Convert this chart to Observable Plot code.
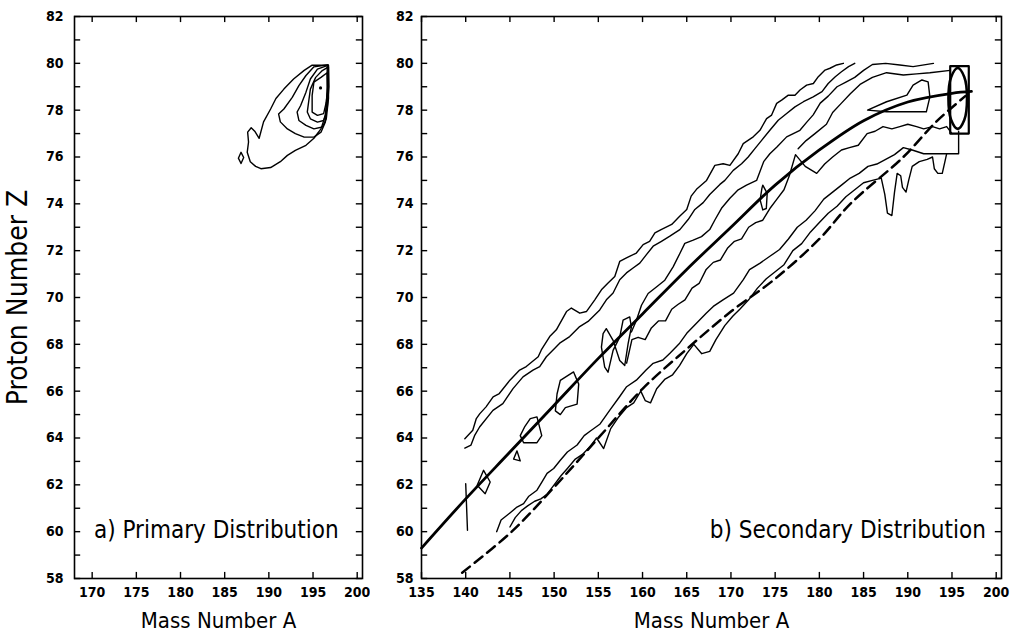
<!DOCTYPE html>
<html><head><meta charset="utf-8">
<script src="https://cdn.jsdelivr.net/npm/d3@7"></script>
<script src="https://cdn.jsdelivr.net/npm/@observablehq/plot@0.6"></script>
<style>
body{margin:0;background:#fff;}
#wrap{position:relative;width:1011px;height:632px;overflow:hidden;background:#fff}
#left,#right{position:absolute;top:0}
#left{left:0}#right{left:370px}
svg{overflow:visible}
</style></head><body><div id="wrap"><div id="left"></div><div id="right"></div></div>
<script>
// ---------- tick values ----------
const zLabels = [58,60,62,64,66,68,70,72,74,76,78,80,82];
const zTicks = [58,59,60,61,62,63,64,65,66,67,68,69,70,71,72,73,74,75,76,77,78,79,80,81,82];
const aTicksLeft = [170,175,180,185,190,195,200];
const aTicksRight = [135,140,145,150,155,160,165,170,175,180,185,190,195,200];

// ---------- panel a: primary distribution contours (A, Z) ----------
const primaryC1 = [[196.6,79.92],[194.9,79.92],[194.0,79.7],[192.8,79.33],[191.7,78.9],[190.8,78.5],[190.2,78.05],[189.4,77.5],[188.9,76.8],[188.4,77.1],[188.0,77.25],[187.6,77.06],[187.7,76.64],[187.55,76.2],[187.9,75.8],[188.5,75.6],[189.1,75.5],[190.2,75.55],[191.3,75.8],[192.1,76.07],[193.0,76.28],[194.2,76.5],[195.1,76.8],[195.9,77.2],[196.4,77.77],[196.6,78.77]];
const primaryC2 = [[196.7,79.94],[195.1,79.85],[194.2,79.48],[193.4,79.05],[192.65,78.55],[191.7,78.05],[191.1,77.84],[191.3,77.5],[192.1,77.2],[193.0,77.0],[194.0,76.85],[195.1,76.85],[195.9,77.06],[196.4,77.5],[196.65,78.6]];
const primaryC3 = [[196.75,79.92],[195.5,79.75],[194.7,79.33],[194.2,78.77],[193.6,78.2],[193.2,77.92],[193.4,77.56],[194.2,77.35],[195.1,77.2],[196.05,77.28],[196.5,77.63],[196.75,78.5]];
const primaryC4 = [[196.75,79.85],[196.05,79.69],[195.3,79.4],[194.7,78.9],[194.5,78.34],[194.35,77.92],[194.7,77.63],[195.5,77.49],[196.2,77.56],[196.6,78.05],[196.8,79.0]];
const primaryC5 = [[196.6,79.6],[195.9,79.4],[195.1,79.2],[194.9,78.63],[194.9,77.92],[195.5,77.78],[196.2,77.85],[196.5,78.34],[196.65,79.0]];
const primaryC6 = [[186.55,75.95],[186.85,76.2],[187.15,75.98],[186.85,75.72]];
const primaryPeak = [[195.85,78.95]];

// ---------- panel b: secondary distribution ----------
const secU1 = [[139.9,63.97],[140.8,64.33],[141.2,64.83],[141.6,65.04],[142.3,65.33],[143.1,65.76],[143.8,65.9],[145.0,66.47],[146.1,66.9],[146.85,67.05],[148.2,67.47],[148.55,67.76],[149.5,68.33],[150.25,68.62],[151.4,69.4],[151.95,69.55],[152.9,69.33],[153.65,69.4],[154.6,69.9],[155.35,70.33],[156.1,70.62],[156.86,70.9],[157.42,71.54],[158.18,71.69],[159.3,71.9],[160.07,72.26],[160.8,72.4],[161.4,72.76],[162.1,72.9],[163.3,73.12],[164.2,73.47],[165.0,73.76],[165.5,74.33],[166.1,74.62],[167.24,75.0],[168.18,75.64],[169.12,75.71],[169.88,75.64],[170.82,76.14],[171.39,76.57],[172.52,76.86],[173.28,77.14],[174.03,77.64],[174.6,77.79],[175.17,78.29],[175.73,78.43],[176.49,78.64],[177.24,78.64],[177.81,78.86],[178.56,79.07],[179.32,79.14],[179.88,79.43],[180.64,79.71],[181.2,79.79],[181.96,79.93],[182.71,80]];
const secU2 = [[139.9,63.57],[140.6,63.7],[141.0,64.1],[141.57,64.47],[143.08,65.18],[144.2,65.47],[145.35,66.11],[146.48,66.61],[147.61,66.9],[148.37,67.05],[149.12,67.47],[149.88,67.76],[150.63,68.05],[151.76,68.33],[152.89,68.76],[153.84,68.98],[155.16,69.47],[155.91,69.9],[156.67,70.19],[157.42,70.76],[158.18,71.05],[158.93,71.26],[159.69,71.47],[160.44,71.83],[161.2,72.19],[162.14,72.4],[163.09,72.62],[164.22,72.9],[165.16,73.33],[165.92,73.76],[166.86,74.05],[167.6,74.4],[168.75,74.83],[169.31,75.0],[170.26,75.43],[171.2,75.71],[171.95,76.0],[172.71,76.36],[173.47,76.71],[174.4,77.14],[175.35,77.57],[176.3,77.86],[177.24,78.14],[178.2,78.36],[179.3,78.57],[180.3,78.79],[181.0,79.14],[181.8,79.43],[182.5,79.64],[183.3,79.86],[184.0,80.0]];
const secM1 = [[158.74,68.53],[159.31,69.03],[159.88,69.67],[160.63,70.17],[161.57,70.45],[162.52,70.74],[163.46,71.31],[164.22,71.88],[164.78,72.31],[165.73,72.45],[166.67,72.6],[167.6,72.9],[168.18,73.31],[168.93,73.81],[169.88,74.24],[170.82,74.6],[171.76,74.8],[172.9,75.0],[173.7,75.8],[174.4,76.14],[175.2,76.43],[176.3,76.86],[177.05,77.0],[177.8,77.14],[178.6,77.5],[179.3,77.8],[180.1,78.3],[181.0,78.6],[182.0,79.0],[183.0,79.2],[184.0,79.4],[185.0,79.7],[186.0,79.95],[187.5,80.0],[189.1,79.93],[190.6,79.86],[192.9,80.0]];
const secM2 = [[177.6,76.35],[178.5,76.7],[179.5,77.0],[180.8,77.4],[181.5,77.9],[182.5,78.3],[183.5,78.7],[184.6,79.1],[186.0,79.4],[187.6,79.6],[189.5,79.5],[191.0,79.55],[192.5,79.6],[194.8,79.7]];
const secL2 = [[158.2,67.2],[158.8,68.2],[159.5,68.3],[160.3,68.2],[161.0,68.7],[161.8,69.0],[162.6,69.0],[163.3,69.5],[164.0,69.7],[164.8,69.9],[165.6,70.4],[166.4,70.6],[167.2,71.2],[168.0,71.5],[168.8,71.6],[169.6,72.1],[170.4,72.4],[171.2,72.5],[172.0,73.0],[172.8,73.2],[173.6,73.3],[174.4,73.8],[175.2,74.2],[176.0,74.6],[176.6,75.2],[177.3,76.1],[178.4,75.6],[179.7,75.3],[180.6,75.7],[181.5,76.0],[182.5,76.3],[183.4,76.4],[184.4,76.5],[185.4,77.0],[186.3,77.1],[187.2,77.3],[188.2,77.2],[189.1,77.3],[190.0,77.4],[191.0,77.3],[191.8,77.2],[192.8,77.3],[193.6,77.2],[194.4,77.3],[195.0,77.0]];
const secL3 = [[143.5,60.0],[144.0,60.5],[145.0,60.8],[145.8,61.05],[146.55,61.2],[147.1,61.5],[148.06,61.77],[148.63,62.13],[149.2,62.49],[149.95,62.7],[150.7,63.05],[151.5,63.4],[152.6,63.7],[153.4,64.1],[154.1,64.3],[155.2,64.6],[156.3,65.19],[157.4,65.76],[158.2,66.19],[159.3,66.47],[160.4,66.9],[161.2,67.19],[162.3,67.33],[163.1,67.62],[164.2,68.05],[165.0,68.47],[166.1,68.9],[167.2,69.33],[168.0,69.62],[169.1,69.9],[170.3,70.19],[171.4,70.76],[172.1,71.19],[173.3,71.47],[174.4,71.76],[175.5,72.05],[176.5,72.5],[177.5,73.0],[178.5,73.3],[179.5,73.7],[180.5,74.2],[181.5,74.5],[182.5,74.8],[183.5,75.1],[184.5,75.3],[185.5,75.6],[186.5,75.7],[187.5,75.9],[188.5,76.1],[189.5,76.4],[190.5,76.3],[191.8,76.14],[195.75,76.14],[195.75,77.1]];
const secL4 = [[145.0,60.2],[145.6,60.6],[146.3,60.9],[147.0,61.1],[147.8,61.3],[148.5,61.4],[149.2,61.6],[150.0,62.0],[150.8,62.4],[151.5,62.7],[152.4,63.1],[153.2,63.3],[154.0,63.6],[154.8,64.0],[155.6,63.55],[156.4,64.4],[157.3,64.9],[158.2,65.3],[159.0,65.5],[159.8,66.0],[160.3,65.6],[160.9,65.5],[161.6,66.1],[162.5,66.5],[163.4,66.7],[164.2,67.1],[165.0,67.6],[165.8,68.0],[166.7,67.6],[167.6,67.7],[168.3,68.2],[169.3,68.8],[170.2,69.2],[171.0,69.5],[172.0,69.9],[173.0,70.4],[174.0,70.8],[175.0,71.1],[176.0,71.4],[177.0,72.0],[178.0,72.3],[179.0,72.8],[180.0,73.2],[181.0,73.6],[182.0,73.9],[183.0,74.3],[184.0,74.6],[185.0,74.9],[186.0,75.0],[187.0,75.1],[187.4,74.4],[187.7,73.6],[188.2,73.5],[188.5,74.5],[188.8,75.3],[189.2,75.2],[189.4,74.7],[189.8,74.5],[190.1,75.0],[190.5,75.6],[191.3,75.8],[192.2,75.9],[192.8,76.0],[193.0,75.5],[193.4,75.3],[193.9,75.3],[194.2,75.8],[194.4,76.14]];
const secTick140 = [[140.0,62.05],[140.2,60.06]];
const loopA = [[142.02,62.62],[142.77,62.12],[142.2,61.62],[141.3,61.98]];
const loopB = [[145.8,63.45],[146.17,63.02],[145.42,63.1]];
const loopC = [[147.3,64.83],[148.06,64.9],[148.6,64.1],[148.06,63.8],[146.55,63.8],[146.17,64.1],[146.7,64.5]];
const loopD = [[150.7,66.46],[152.2,66.82],[152.78,66.3],[152.6,65.45],[151.27,65.3],[150.7,65.0],[150.14,65.16],[150.33,65.88]];
const loopE = [[155.9,68.67],[156.67,68.17],[157.42,67.31],[157.99,67.1],[158.37,68.03],[158.74,68.74],[158.55,69.17],[157.8,69.03],[157.42,68.31],[156.67,67.74],[156.1,66.81],[155.72,67.03],[155.35,67.88],[155.54,68.46]];
const loopF = [[173.6,74.8],[174.1,74.45],[174.0,73.8],[173.6,73.74],[173.3,74.17],[173.5,74.66]];
const loopG = [[185.45,78.0],[187.6,78.36],[189.9,78.64],[190.6,79.07],[191.6,79.29],[192.3,79.21],[192.5,78.57],[192.1,77.93],[189.9,77.93],[187.6,77.93]];
const peakBox = [[194.8,79.88],[196.9,79.88],[196.9,77.0],[194.8,77.0]];
const peakEllipse = [[195.65,79.8],[196.39,79.42],[196.7,78.5],[196.39,77.58],[195.65,77.2],[194.91,77.58],[194.6,78.5],[194.91,79.42]];
const fitSolid = [[135,59.3],[140,61.4],[145,63.4],[150,65.4],[155,67.4],[160,69.3],[165,71.2],[170,73.0],[175,74.8],[180,76.3],[185,77.55],[190,78.35],[195,78.72],[197.2,78.8]];
const fitDashed = [[139.6,58.25],[145.2,60.0],[150,61.9],[155,64.0],[160,66.1],[165,67.8],[170,69.4],[175,70.8],[180,72.5],[183.5,74.0],[189.5,76.0],[193.2,77.5],[196.5,78.6]];

const panelTexts = [
  {panel:"a", text:"a) Primary Distribution", A:170.2, Z:60.05},
  {panel:"b", text:"b) Secondary Distribution", A:167.6, Z:60.05}
];

// ---------- helpers ----------
const FONT = '"DejaVu Sans Condensed","DejaVu Sans",sans-serif';
const toRows = list => list.flatMap((pts, i) => pts.map(([A, Z]) => ({A, Z, id: i})));
const tickLenA = 0.7, tickLenZ = 0.26;

function frameMarks(xDomain, aTicks, yLabelPad) {
  const [x0, x1] = xDomain;
  return [
    Plot.ruleY(zTicks, {y: d => d, x1: x0, x2: x0 + tickLenA, strokeWidth: 1.4}),
    Plot.ruleY(zTicks, {y: d => d, x1: x1 - tickLenA, x2: x1, strokeWidth: 1.4}),
    Plot.ruleX(aTicks, {x: d => d, y1: 58, y2: 58 + tickLenZ, strokeWidth: 1.4}),
    Plot.ruleX(aTicks, {x: d => d, y1: 82 - tickLenZ, y2: 82, strokeWidth: 1.4}),
    Plot.frame({stroke: "black", strokeWidth: 1.6}),
    Plot.axisX(aTicks, {tickSize: 0, tickPadding: 9, fontSize: 14, fontWeight: "bold", label: null}),
    Plot.axisY(zLabels, {anchor: "left", tickSize: 0, tickPadding: yLabelPad, fontSize: 14, fontWeight: "bold", label: null}),
    Plot.text([{A: (x0 + x1) / 2, Z: 58}], {x: "A", y: "Z", text: () => "Mass Number A", dy: 49, lineAnchor: "bottom", fontSize: 22, fontWeight: "normal"})
  ];
}

const base = {height: 632, marginTop: 16, marginBottom: 54,
  y: {domain: [58, 82]},
  style: {fontFamily: FONT, background: "white", color: "black", overflow: "visible"}};

const leftDomain = [168, 200.6];
const left = Plot.plot({
  ...base, width: 370, marginLeft: 74, marginRight: 8,
  x: {domain: leftDomain},
  marks: [
    ...frameMarks(leftDomain, aTicksLeft, 11),
    Plot.text([{A: leftDomain[0], Z: 70}], {x: "A", y: "Z", text: () => "Proton Number Z", dx: -56, rotate: -90, fontSize: 28, fontWeight: "normal"}),
    Plot.line(toRows([primaryC1, primaryC2, primaryC3, primaryC4, primaryC5, primaryC6]), {x: "A", y: "Z", z: "id", curve: "linear-closed", stroke: "black", strokeWidth: 1.4}),
    Plot.dot(primaryPeak, {x: d => d[0], y: d => d[1], r: 1.6, fill: "black", stroke: null}),
    Plot.text(panelTexts.filter(d => d.panel === "a"), {x: "A", y: "Z", text: "text", textAnchor: "start", fontSize: 24, fontWeight: "normal"})
  ]
});

const rightDomain = [135, 200.6];
const right = Plot.plot({
  ...base, width: 641, marginLeft: 51, marginRight: 10,
  x: {domain: rightDomain},
  marks: [
    ...frameMarks(rightDomain, aTicksRight, 8),
    Plot.line(toRows([secU1, secU2, secM1, secM2, secL2, secL3, secL4, secTick140]), {x: "A", y: "Z", z: "id", stroke: "black", strokeWidth: 1.4}),
    Plot.line(toRows([loopA, loopB, loopC, loopD, loopE, loopF, loopG]), {x: "A", y: "Z", z: "id", curve: "linear-closed", stroke: "black", strokeWidth: 1.4}),
    Plot.line(toRows([peakBox]), {x: "A", y: "Z", curve: "linear-closed", stroke: "black", strokeWidth: 2.2}),
    Plot.line(toRows([peakEllipse]), {x: "A", y: "Z", curve: "catmull-rom-closed", stroke: "black", strokeWidth: 2.6}),
    Plot.line(toRows([fitSolid]), {x: "A", y: "Z", curve: "catmull-rom", stroke: "black", strokeWidth: 2.8}),
    Plot.line(toRows([fitDashed]), {x: "A", y: "Z", curve: "catmull-rom", stroke: "black", strokeWidth: 2.5, strokeDasharray: "10,6"}),
    Plot.text(panelTexts.filter(d => d.panel === "b"), {x: "A", y: "Z", text: "text", textAnchor: "start", fontSize: 24, fontWeight: "normal"})
  ]
});

document.getElementById("left").appendChild(left);
document.getElementById("right").appendChild(right);
</script></body></html>
